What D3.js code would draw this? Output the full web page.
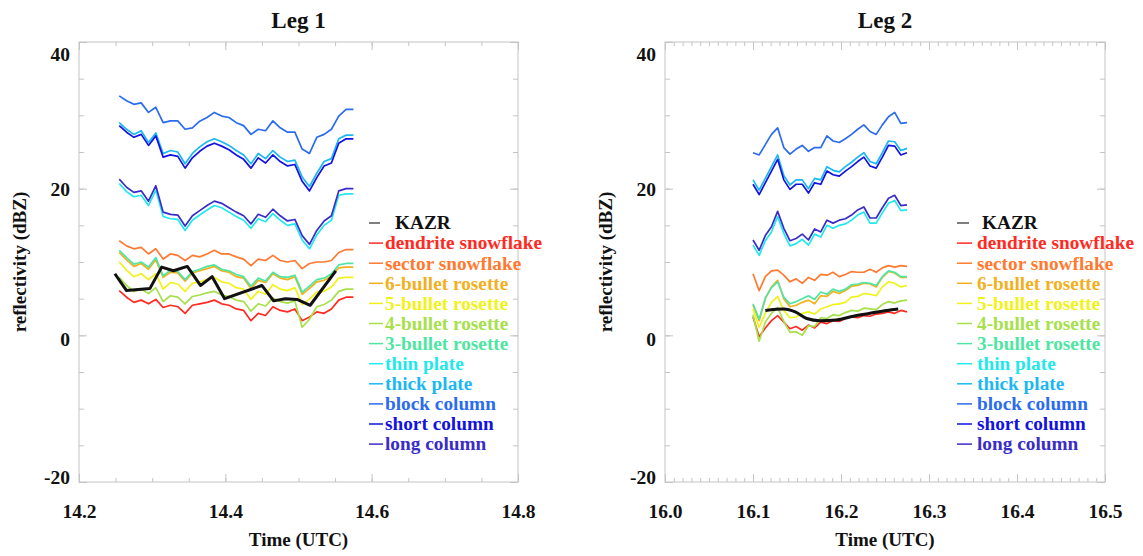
<!DOCTYPE html>
<html>
<head>
<meta charset="utf-8">
<script src="https://cdn.jsdelivr.net/npm/d3@7"></script>
<style>
  body { margin: 0; background: #fff; }
  svg { display: block; }
  text { font-family: "Liberation Serif", "Times New Roman", serif; font-weight: bold; }
</style>
</head>
<body>
<svg id="chart" width="1143" height="556"></svg>
<script>
// habit names, legend order
const habits = ['dendrite snowflake', 'sector snowflake', '6-bullet rosette', '5-bullet rosette',
  '4-bullet rosette', '3-bullet rosette', 'thin plate', 'thick plate', 'block column',
  'short column', 'long column'];
const habitColors = ['#ff2a22', '#ff7a30', '#f2b01e', '#f2f21a', '#a6e04a', '#4ee6a2',
  '#22e8ee', '#1cb8f4', '#2a6cf0', '#1212e2', '#3a2cc8'];

// Leg 1
const leg1Time = [14.255, 14.265, 14.275, 14.285, 14.295, 14.305, 14.315, 14.325, 14.335, 14.345,
  14.355, 14.365, 14.375, 14.385, 14.395, 14.405, 14.415, 14.425, 14.435, 14.445, 14.455, 14.465,
  14.475, 14.485, 14.495, 14.505, 14.515, 14.525, 14.535, 14.545, 14.555, 14.565, 14.575];
const leg1Dendrite = [6.1, 5.2, 4.5, 4.8, 4.3, 4.9, 3.8, 4.1, 3.9, 3.0, 4.1, 4.3, 4.5, 4.8, 4.3, 4.1, 3.6, 3.4, 2.0, 3.0, 2.7, 3.9, 3.4, 3.2, 3.6, 2.0, 2.5, 3.2, 3.0, 3.6, 4.8, 5.2, 5.2];
const leg1Sector = [12.9, 12.2, 11.8, 12.0, 11.1, 11.8, 10.4, 11.1, 10.9, 10.2, 10.9, 10.7, 11.1, 11.6, 11.1, 11.1, 10.7, 10.4, 9.5, 10.4, 10.2, 10.9, 10.2, 10.0, 10.2, 9.1, 9.8, 10.0, 10.0, 10.2, 11.3, 11.7, 11.7];
const leg1Bullet6 = [11.3, 10.3, 9.4, 9.8, 9.0, 10.3, 7.9, 8.6, 8.5, 7.4, 8.5, 8.8, 9.1, 9.4, 8.8, 8.6, 8.0, 7.8, 6.4, 7.5, 7.2, 8.4, 7.8, 7.6, 8.0, 5.6, 6.4, 7.3, 7.5, 8.1, 9.2, 9.3, 9.3];
const leg1Bullet5 = [10.0, 8.9, 8.0, 8.4, 7.6, 8.4, 6.3, 7.2, 7.0, 6.0, 7.1, 7.3, 7.6, 7.9, 7.3, 7.1, 6.5, 6.3, 4.9, 6.0, 5.6, 6.9, 6.3, 6.1, 6.5, 4.2, 4.9, 5.9, 6.0, 6.6, 7.8, 7.9, 7.9];
const leg1Bullet4 = [7.9, 6.8, 6.0, 6.3, 5.7, 6.5, 4.6, 5.4, 5.2, 4.3, 5.3, 5.5, 5.8, 6.0, 5.5, 5.3, 4.8, 4.6, 3.3, 4.3, 4.0, 5.1, 4.6, 4.4, 4.7, 1.1, 2.2, 3.9, 4.2, 4.8, 6.0, 6.3, 6.3];
const leg1Bullet3 = [11.6, 10.6, 9.7, 10.0, 9.3, 10.6, 8.1, 8.9, 8.7, 7.6, 8.7, 9.0, 9.4, 9.6, 9.0, 8.8, 8.3, 8.0, 6.7, 7.8, 7.4, 8.6, 8.0, 7.9, 8.2, 5.9, 6.7, 7.6, 7.8, 8.4, 9.6, 9.8, 9.8];
const leg1ThinPlate = [20.7, 19.6, 18.9, 19.1, 17.7, 19.8, 16.2, 15.9, 15.8, 14.3, 15.7, 16.4, 17.1, 17.7, 17.4, 16.8, 16.2, 15.7, 14.6, 15.9, 15.5, 16.6, 15.7, 15.0, 15.2, 13.0, 11.8, 13.7, 15.0, 15.7, 19.1, 19.3, 19.3];
const leg1ThickPlate = [29.0, 28.1, 27.4, 27.9, 26.3, 27.6, 24.8, 25.2, 25.0, 23.4, 24.8, 25.7, 26.4, 26.8, 26.4, 25.9, 25.2, 24.6, 23.4, 24.8, 24.1, 25.2, 24.3, 23.7, 23.9, 21.6, 20.3, 22.1, 23.7, 24.1, 26.8, 27.3, 27.3];
const leg1Block = [32.65, 32.0, 31.5, 31.7, 30.4, 31.1, 29.0, 29.25, 29.25, 28.1, 28.3, 29.2, 29.7, 30.4, 29.9, 29.7, 29.0, 28.6, 27.4, 28.1, 27.9, 29.25, 28.3, 27.7, 27.7, 25.4, 24.8, 27.0, 27.4, 28.1, 29.9, 30.8, 30.8];
const leg1Short = [28.6, 27.7, 27.0, 27.4, 25.9, 27.2, 24.3, 24.6, 24.4, 22.8, 24.2, 25.1, 25.8, 26.2, 25.8, 25.3, 24.6, 24.0, 22.8, 24.2, 23.5, 24.6, 23.7, 23.1, 23.3, 21.0, 19.7, 21.5, 23.1, 23.5, 26.2, 26.8, 26.8];
const leg1Long = [21.3, 20.2, 19.5, 19.7, 18.3, 20.4, 16.8, 16.5, 16.4, 14.9, 16.3, 17.0, 17.7, 18.3, 18.0, 17.4, 16.8, 16.3, 15.2, 16.5, 16.1, 17.2, 16.3, 15.6, 15.8, 13.6, 12.4, 14.3, 15.6, 16.3, 19.7, 20.0, 20.0];
const leg1KazrTime = [14.249, 14.265, 14.297, 14.313, 14.329, 14.348, 14.366, 14.382, 14.399, 14.450, 14.466, 14.482, 14.498, 14.516, 14.551];
const leg1Kazr = [8.4, 6.1, 6.4, 9.3, 8.8, 9.4, 6.8, 8.0, 5.0, 6.8, 4.7, 5.0, 4.9, 4.1, 8.8];

// Leg 2
const leg2Time = [16.100, 16.107, 16.114, 16.121, 16.128, 16.135, 16.142, 16.149, 16.156, 16.163,
  16.170, 16.177, 16.184, 16.191, 16.198, 16.205, 16.212, 16.219, 16.226, 16.233, 16.240, 16.247,
  16.254, 16.261, 16.268, 16.275];
const leg2Dendrite = [2.5, -0.2, 1.0, 2.0, 2.7, 1.8, 0.9, 1.2, 0.7, 1.4, 1.0, 1.8, 1.6, 2.0, 1.9, 2.3, 2.5, 2.4, 2.7, 2.6, 2.9, 3.0, 3.2, 3.0, 3.4, 3.2];
const leg2Sector = [8.4, 6.1, 8.0, 8.8, 8.9, 8.2, 7.3, 7.7, 7.1, 7.9, 7.5, 8.3, 8.2, 8.6, 8.0, 8.3, 8.7, 8.6, 8.6, 9.0, 8.6, 9.2, 9.5, 9.3, 9.5, 9.4];
const leg2Bullet6 = [4.1, 2.0, 5.0, 6.6, 7.5, 5.0, 3.9, 4.1, 4.5, 4.8, 4.3, 5.4, 5.3, 6.0, 5.7, 6.1, 6.7, 6.8, 7.1, 7.0, 6.6, 7.9, 8.7, 8.5, 7.9, 7.9];
const leg2Bullet5 = [3.6, 1.1, 3.0, 4.5, 5.3, 3.4, 2.4, 2.5, 3.0, 3.2, 2.9, 3.6, 3.9, 4.2, 4.3, 4.5, 5.2, 5.3, 5.7, 5.6, 5.4, 6.6, 7.3, 7.1, 6.6, 6.8];
const leg2Bullet4 = [2.8, -0.8, 1.8, 3.0, 3.8, 1.9, 0.4, 0.5, 0.0, 1.3, 1.2, 2.4, 2.3, 2.8, 2.7, 3.1, 3.4, 3.3, 3.7, 3.6, 3.5, 4.2, 4.6, 4.4, 4.7, 4.8];
const leg2Bullet3 = [4.3, 2.2, 5.1, 6.5, 7.3, 5.2, 4.3, 4.6, 5.0, 5.4, 4.9, 5.9, 5.6, 6.3, 6.0, 6.3, 6.9, 7.0, 7.2, 7.1, 6.8, 8.0, 8.8, 8.6, 8.0, 8.0];
const leg2ThinPlate = [12.3, 10.9, 12.9, 14.1, 16.2, 13.9, 12.2, 12.5, 13.1, 12.3, 13.8, 13.4, 15.0, 14.6, 15.0, 15.2, 15.7, 16.4, 16.8, 15.3, 15.3, 16.7, 18.0, 18.4, 17.0, 17.1];
const leg2ThickPlate = [21.2, 19.8, 21.4, 23.0, 24.6, 21.8, 20.5, 21.2, 21.2, 20.0, 21.4, 21.2, 23.0, 22.5, 22.3, 23.0, 23.6, 24.3, 24.9, 23.7, 23.4, 24.9, 26.5, 26.4, 25.2, 25.5];
const leg2Block = [24.9, 24.6, 26.0, 27.4, 28.3, 25.6, 24.7, 25.4, 25.9, 25.1, 25.6, 25.6, 27.2, 26.5, 26.3, 26.8, 27.4, 28.1, 28.7, 27.8, 27.4, 28.7, 29.8, 30.4, 28.9, 29.0];
const leg2Short = [20.6, 19.2, 20.8, 22.4, 24.0, 21.2, 19.9, 20.6, 20.6, 19.4, 20.8, 20.6, 22.4, 21.9, 21.7, 22.4, 23.0, 23.7, 24.3, 23.1, 22.8, 24.3, 25.9, 25.8, 24.6, 24.9];
const leg2Long = [13.0, 11.6, 13.6, 14.8, 16.9, 14.6, 12.9, 13.2, 13.8, 13.0, 14.5, 14.1, 15.7, 15.3, 15.7, 15.9, 16.4, 17.1, 17.5, 16.0, 16.0, 17.4, 18.7, 19.1, 17.7, 17.8];
const leg2KazrTime = [16.114, 16.135, 16.148, 16.161, 16.176, 16.195, 16.214, 16.233, 16.252, 16.265];
const leg2Kazr = [3.4, 3.6, 3.2, 2.3, 2.0, 2.1, 2.6, 3.0, 3.4, 3.6];

const yTicks = [-20, 0, 20, 40];

const svg = d3.select('#chart');
const axisColor = '#c4c4c4';
const plotTop = 42, plotBottom = 482;

const panels = [
  { title: 'Leg 1', left: 79, right: 518, domain: [14.2, 14.8], major: 0.2, minor: 0.05,
    fmt: d3.format('.1f'), time: leg1Time,
    series: [leg1Dendrite, leg1Sector, leg1Bullet6, leg1Bullet5, leg1Bullet4, leg1Bullet3,
      leg1ThinPlate, leg1ThickPlate, leg1Block, leg1Short, leg1Long],
    kazrTime: leg1KazrTime, kazr: leg1Kazr, kazrCurve: d3.curveLinear,
    legend: { x0: 369, x1: 383, tx: 385, kx: 395 } },
  { title: 'Leg 2', left: 665, right: 1105, domain: [16.0, 16.5], major: 0.1, minor: 0.01,
    fmt: d3.format('.1f'), time: leg2Time,
    series: [leg2Dendrite, leg2Sector, leg2Bullet6, leg2Bullet5, leg2Bullet4, leg2Bullet3,
      leg2ThinPlate, leg2ThickPlate, leg2Block, leg2Short, leg2Long],
    kazrTime: leg2KazrTime, kazr: leg2Kazr, kazrCurve: d3.curveMonotoneX,
    legend: { x0: 957, x1: 972, tx: 977, kx: 982 } }
];

panels.forEach(p => {
  const x = d3.scaleLinear().domain(p.domain).range([p.left, p.right]);
  const y = d3.scaleLinear().domain([-20, 40]).range([plotBottom, plotTop]);
  const g = svg.append('g');

  const nMajor = Math.round((p.domain[1] - p.domain[0]) / p.major);
  const majorTicks = d3.range(nMajor + 1).map(i => p.domain[0] + i * p.major);
  const nMinor = Math.round((p.domain[1] - p.domain[0]) / p.minor);
  const minorTicks = d3.range(nMinor + 1).map(i => p.domain[0] + i * p.minor);
  const yMinor = d3.range(-20, 41, 5);

  const styleAxis = sel => {
    sel.select('.domain').remove();
    sel.selectAll('line').attr('stroke', axisColor);
    sel.selectAll('text').attr('fill', '#111').style('font-size', '19.5px')
      .style('font-family', '"Liberation Serif", serif').style('font-weight', 'bold');
  };

  // minor ticks (all four sides, inward)
  g.append('g').attr('transform', `translate(0,${plotBottom})`)
    .call(d3.axisBottom(x).tickValues(minorTicks).tickSize(-4).tickFormat(''))
    .call(styleAxis);
  g.append('g').attr('transform', `translate(0,${plotTop})`)
    .call(d3.axisTop(x).tickValues(minorTicks).tickSize(-4).tickFormat(''))
    .call(styleAxis);
  g.append('g').attr('transform', `translate(${p.left},0)`)
    .call(d3.axisLeft(y).tickValues(yMinor).tickSize(-5).tickFormat(''))
    .call(styleAxis);
  g.append('g').attr('transform', `translate(${p.right},0)`)
    .call(d3.axisRight(y).tickValues(yMinor).tickSize(-5).tickFormat(''))
    .call(styleAxis);

  // major ticks with labels
  g.append('g').attr('transform', `translate(0,${plotBottom})`)
    .call(d3.axisBottom(x).tickValues(majorTicks).tickSize(-8).tickPadding(22).tickFormat(p.fmt))
    .call(styleAxis);
  g.append('g').attr('transform', `translate(0,${plotTop})`)
    .call(d3.axisTop(x).tickValues(majorTicks).tickSize(-8).tickFormat(''))
    .call(styleAxis);
  const ya = g.append('g').attr('transform', `translate(${p.left},0)`)
    .call(d3.axisLeft(y).tickValues(yTicks).tickSize(-8).tickPadding(9).tickFormat(d => String(d)))
    .call(styleAxis);
  ya.selectAll('text').attr('y', d => d === 40 ? 12 : d === -20 ? -5 : d === 0 ? 4 : 1);
  g.append('g').attr('transform', `translate(${p.right},0)`)
    .call(d3.axisRight(y).tickValues(yTicks).tickSize(-8).tickFormat(''))
    .call(styleAxis);

  // frame
  g.append('rect').attr('x', p.left).attr('y', plotTop)
    .attr('width', p.right - p.left).attr('height', plotBottom - plotTop)
    .attr('fill', 'none').attr('stroke', axisColor).attr('stroke-width', 1);

  // habit lines
  const line = d3.line().x((d, i) => x(p.time[i])).y(d => y(d));
  g.selectAll('path.habit').data(p.series).enter().append('path')
    .attr('class', 'habit')
    .attr('d', line)
    .attr('fill', 'none')
    .attr('stroke', (d, i) => habitColors[i])
    .attr('stroke-width', 1.7)
    .attr('stroke-linejoin', 'round');

  // KAZR
  const kLine = d3.line().curve(p.kazrCurve).x((d, i) => x(p.kazrTime[i])).y(d => y(d));
  g.append('path').attr('d', kLine(p.kazr))
    .attr('fill', 'none').attr('stroke', '#111').attr('stroke-width', 3)
    .attr('stroke-linejoin', 'round');

  // titles
  const cx = (p.left + p.right) / 2;
  g.append('text').attr('x', cx).attr('y', 28).attr('text-anchor', 'middle')
    .style('font-size', '23px').attr('fill', '#111').text(p.title);
  g.append('text').attr('x', cx).attr('y', 546).attr('text-anchor', 'middle')
    .style('font-size', '19px').attr('fill', '#111').text('Time (UTC)');
  g.append('text')
    .attr('transform', `translate(${p.left - 60},${(plotTop + plotBottom) / 2}) rotate(-90)`)
    .attr('text-anchor', 'middle').attr('dy', '0.35em')
    .style('font-size', '19px').attr('fill', '#111').text('reflectivity (dBZ)');

  // legend
  const L = p.legend;
  const rows = [{ name: 'KAZR', color: '#111' }].concat(habits.map((h, i) => ({ name: h, color: habitColors[i] })));
  const lg = g.append('g');
  rows.forEach((r, i) => {
    const yy = 223 + i * 20.1;
    lg.append('line').attr('x1', L.x0).attr('x2', i === 0 ? L.x1 - 3 : L.x1)
      .attr('y1', yy).attr('y2', yy).attr('stroke', i === 0 ? '#555' : r.color).attr('stroke-width', 1.5);
    lg.append('text').attr('x', i === 0 ? L.kx : L.tx).attr('y', yy).attr('dy', '0.33em')
      .style('font-size', '19.3px').attr('fill', r.color).text(r.name);
  });
});
</script>
</body>
</html>
